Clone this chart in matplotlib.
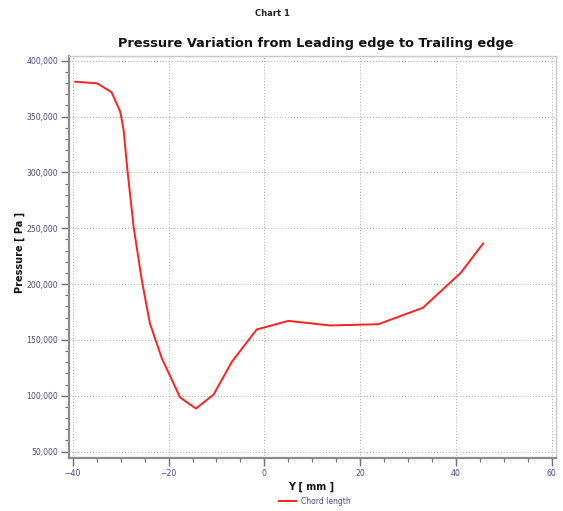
import matplotlib
matplotlib.use("Agg")
import matplotlib.pyplot as plt
from matplotlib.ticker import MultipleLocator, FuncFormatter

# Data (Y in mm, pressure in Pa)
y_mm = [-39.5, -34.9, -31.9, -30.1, -29.4, -28.6, -27.3, -25.6, -23.9, -21.4,
        -17.6, -14.3, -10.6, -6.8, -1.6, 5.0, 13.7, 23.8, 33.1, 41.0, 45.7]
pressure = [381200, 379700, 371700, 354300, 338000, 302000, 251000, 203500,
            164700, 133300, 98400, 88500, 101000, 130300, 159300, 167000,
            162900, 164000, 178700, 210000, 236400]
series_name = "Chord length"

W, H = 563, 511
fig = plt.figure(figsize=(W / 100, H / 100), dpi=100)
ax = fig.add_axes([69 / W, 1 - 458 / H, (556 - 69) / W, (458 - 56) / H])

ax.plot(y_mm, pressure, color="#ff2020", lw=1.4, label=series_name)

ax.set_xlim(-40.8, 60.9)
ax.set_ylim(44200, 404200)

ax.xaxis.set_major_locator(MultipleLocator(20))
ax.xaxis.set_minor_locator(MultipleLocator(5))
ax.yaxis.set_major_locator(MultipleLocator(50000))
ax.yaxis.set_minor_locator(MultipleLocator(10000))
ax.yaxis.set_major_formatter(FuncFormatter(lambda v, p: f"{int(v):,}"))

tick_col = "#4a4a80"
ax.tick_params(axis="both", which="major", length=6, width=1, color="#707070",
               labelsize=5.6, labelcolor=tick_col, direction="out", pad=2)
ax.tick_params(axis="both", which="minor", length=3, width=0.8, color="#707070",
               direction="out")

ax.grid(True, which="major", linestyle=(0, (1, 2)), color="#a8a8a8", lw=0.7)

for side in ["top", "right"]:
    ax.spines[side].set_color("#c8c8c8")
    ax.spines[side].set_linewidth(1.0)
for side in ["left", "bottom"]:
    ax.spines[side].set_color("#8c8c8c")
    ax.spines[side].set_linewidth(1.6)

fig.text(272 / W, 1 - 14 / H, "Chart 1", ha="center", va="center",
         fontsize=6, fontweight="bold", color="#222222")
fig.text(316 / W, 1 - 44 / H, "Pressure Variation from Leading edge to Trailing edge",
         ha="center", va="center", fontsize=9.3, fontweight="bold", color="#111111")
fig.text(20 / W, 1 - 252 / H, "Pressure [ Pa ]", rotation=90, ha="center", va="center",
         fontsize=7, fontweight="bold", color="#111111")
fig.text(311 / W, 1 - 487 / H, "Y [ mm ]", ha="center", va="center",
         fontsize=7, fontweight="bold", color="#111111")

fig.legend(loc="center", bbox_to_anchor=(315 / W, 1 - 501 / H), frameon=False,
           fontsize=5.5, labelcolor=tick_col, handlelength=2.2, handletextpad=0.6,
           borderpad=0, borderaxespad=0)

fig.savefig("out.png", dpi=100)
